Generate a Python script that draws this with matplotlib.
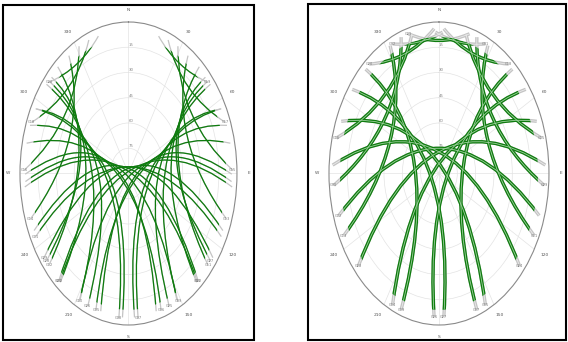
import numpy as np
import matplotlib
matplotlib.use('Agg')
import matplotlib.pyplot as plt
from matplotlib.path import Path
from matplotlib.patches import PathPatch, Rectangle

# satellite passes, one row each: rise (e, n), mid-pass (e, n), set (e, n)
# east / north offsets from zenith, in degrees of zenith distance
left_tracks = np.array([
    [77, -37.5, 0, 4, -77, -37.5],
    [86, -8, 4, 3, -57, -64],
    [-86, -8, -4, 3, 57, -64],
    [84.5, 18, 10, 0.6, -27, -81],
    [-84.5, 18, -10, 0.6, 27, -81],
    [77, 38.5, 19.4, -0.6, 8, -86],
    [-77, 38.5, -19.4, -0.6, -8, -86],
    [68, 53, 30.6, 2.2, 41, -76],
    [-68, 53, -30.6, 2.2, -41, -76],
    [58.7, 63.4, 41.2, 10.2, 66, -54.5],
    [-58.7, 63.4, -41.2, 10.2, -66, -54.5],
    [49.4, 70, 48.9, 21.5, 81.3, -27],
    [-49.4, 70, -48.9, 21.5, -81.3, -27],
    [41, 75.6, 52.2, 35.6, 86.6, 1.9],
    [-41, 75.6, -52.2, 35.6, -86.6, 1.9],
    [32.9, 79.3, 50, 51, 80.3, 30.4],
    [-32.9, 79.3, -50, 51, -80.3, 30.4],
    [25, 81.6, 42.7, 65.1, 65.8, 54.2],
    [-25, 81.6, -42.7, 65.1, -65.8, 54.2],
    [78.3, -33.9, 2.8, 3.8, -57.8, -63.7],
    [-78.3, -33.9, -2.8, 3.8, 57.8, -63.7],
    [85.7, -0.4, 10.8, 3, -23, -81.8],
    [-85.7, -0.4, -10.8, 3, 23, -81.8],
    [76.4, 38.3, 26.2, 4.1, 33.7, -78.7],
    [-76.4, 38.3, -26.2, 4.1, -33.7, -78.7],
    [63.8, 57.2, 39.5, 12.3, 67.9, -51.8],
    [-63.8, 57.2, -39.5, 12.3, -67.9, -51.8],
    [70, -50, 0, 4, -70, -50],
    [81.7, 28.6, 18.1, 1.5, 5, -85.5],
    [-81.7, 28.6, -18.1, 1.5, -5, -85.5],
    [65.6, 54.7, 35.5, 7, 56.5, -64.6],
    [-65.6, 54.7, -35.5, 7, -56.5, -64.6],
    [85.5, -4.8, 7.2, 2.7, -40.1, -75],
    [-85.5, -4.8, -7.2, 2.7, 40.1, -75],
])
left_prn = ['G01', 'G02', 'G03', 'G05', 'G06', 'G07', 'G08', 'G09', 'G10',
            'G11', 'G12', 'G13', 'G14', 'G15', 'G16', 'G17', 'G18', 'G19',
            'G20', 'G21', 'G22', '', '', 'G25', 'G26', 'G27', 'G28',
            'G29', '', '', '', '', '', '']

right_tracks = np.array([
    [82, -25, 0, 15, -82, -25],
    [80, 31, 2.5, 8.4, -38, -78],
    [-80, 31, -2.5, 8.4, 38, -78],
    [60, 62, 20, 5, 31, -81],
    [-60, 62, -20, 5, -31, -81],
    [40, 76, 40, 19.5, 78, -37],
    [-40, 76, -40, 19.5, -78, -37],
    [22, 83, 44, 47, 84, 21],
    [-22, 83, -44, 47, -84, 21],
    [4, 86, 28, 71, 57, 65],
    [-4, 86, -28, 71, -57, 65],
    [25, 83, 0, 79, -25, 83],
    [87, 5, 0, 13, -66, -55],
    [-87, 5, 0, 13, 66, -55],
    [71, 50, 10, 5, -4, -85],
    [-71, 50, -10, 5, 4, -85],
    [31, 81, 44, 33, 86, -7],
    [-31, 81, -44, 33, -86, -7],
    [-3, 84, 17, 78, 38, 77],
    [3, 84, -17, 78, -38, 77],
])
right_prn = ['G02', 'G04', 'G05', 'G07', 'G09', 'G11', 'G13', 'G15', 'G16',
             'G18', 'G20', 'G21', 'G23', 'G24', 'G26', 'G27', 'G29', 'G30',
             'G31', 'G32']

az_ticks = np.arange(0, 360, 30)
az_labels = ['N', '30', '60', 'E', '120', '150', 'S', '210', '240', 'W', '300', '330']
zen_rings = [15, 30, 45, 60, 75]
elev_labels = ['75', '60', '45', '30', '15']
mask_zen = 81  # below this elevation the pass is drawn grey


def sky_to_polar(pts):
    return np.column_stack([np.arctan2(pts[:, 0], pts[:, 1]),
                            np.hypot(pts[:, 0], pts[:, 1])])


def draw_panel(ax, tracks, prns, lw, double):
    ax.set_theta_zero_location('N')
    ax.set_theta_direction(-1)
    ax.set_aspect('auto')

    ring = np.linspace(0, 2 * np.pi, 361)
    mask = Path(np.column_stack([ring, np.full(ring.size, mask_zen)]))

    for row, prn in zip(tracks, prns):
        a, m, b = row.reshape(3, 2)
        ctrl = 2 * m - (a + b) / 2
        verts = sky_to_polar(np.array([a, ctrl, b]))
        path = Path(verts, [Path.MOVETO, Path.CURVE3, Path.CURVE3])

        ax.add_patch(PathPatch(path, fill=False, ec='#c4c4c4', lw=lw, zorder=3))
        green = PathPatch(path, fill=False, ec='#0e7c0e', lw=lw, zorder=4)
        green.set_clip_path(mask, ax.transData)
        ax.add_patch(green)
        if double:
            ax.add_patch(PathPatch(path, fill=False, ec='#f0f0f0', lw=0.5, zorder=3.5))
            core = PathPatch(path, fill=False, ec='#9fd19f', lw=0.6, zorder=5)
            core.set_clip_path(mask, ax.transData)
            ax.add_patch(core)

        if prn:
            ax.text(verts[2, 0], verts[2, 1], prn, fontsize=2.5, color='#777777',
                    ha='center', va='center', zorder=6)

    ax.set_thetagrids(az_ticks, az_labels, fontsize=3.2, color='#555555')
    ax.tick_params(axis='x', pad=1.5, length=0)
    ax.set_rgrids(zen_rings, elev_labels, angle=0, fontsize=2.8, color='#888888')
    ax.grid(True, color='#e3e3e3', lw=0.5)
    ax.spines['polar'].set_edgecolor('#8a8a8a')
    ax.spines['polar'].set_linewidth(0.8)
    ax.set_rlim(0, 90)


fig = plt.figure(figsize=(5.68, 3.42), dpi=100)

fig.add_artist(Rectangle((0.0053, 0.0058), 0.4419, 0.9795, transform=fig.transFigure,
                         fill=False, ec='black', lw=1.5))
fig.add_artist(Rectangle((0.5423, 0.0058), 0.4542, 0.9825, transform=fig.transFigure,
                         fill=False, ec='black', lw=1.5))

ax1 = fig.add_axes([0.0352, 0.0497, 0.382, 0.886], projection='polar')
draw_panel(ax1, left_tracks, left_prn, 0.9, False)

ax2 = fig.add_axes([0.5792, 0.0497, 0.3873, 0.886], projection='polar')
draw_panel(ax2, right_tracks, right_prn, 2.4, True)

fig.savefig('out.png', dpi=100)
